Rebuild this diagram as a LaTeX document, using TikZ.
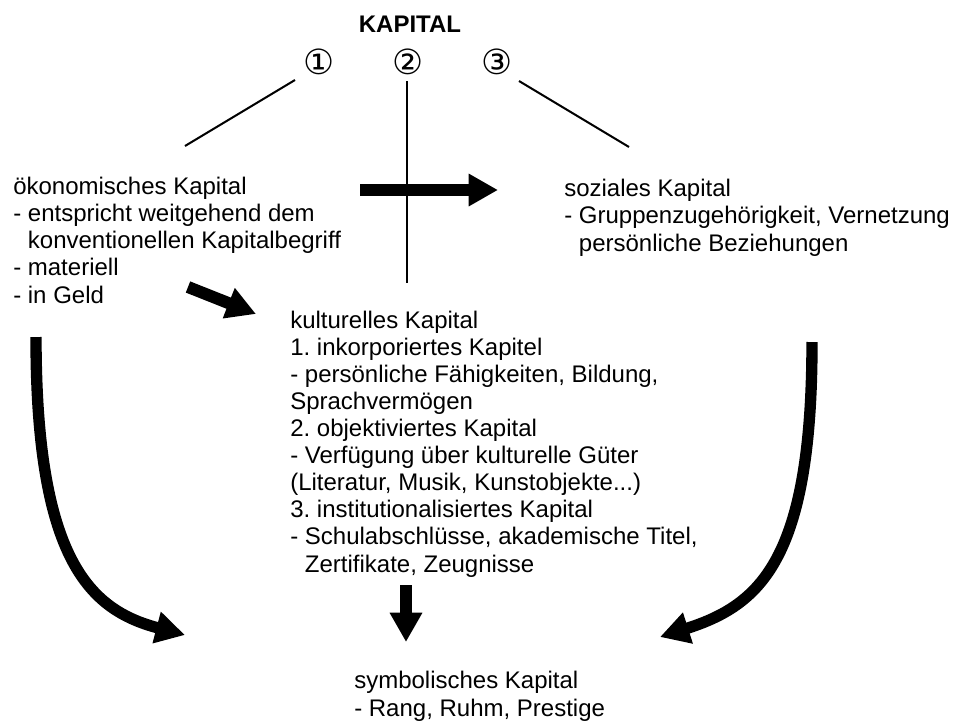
\documentclass[tikz,border=0pt]{standalone}
\usepackage{fontspec}
\setmainfont{Liberation Sans}
\newfontfamily\symfont{DejaVu Sans}
\usetikzlibrary{arrows.meta}
\frenchspacing
\begin{document}
\begin{tikzpicture}[x=0.75pt,y=-0.75pt,
  txt/.style={anchor=base west,align=left,inner sep=0pt,font=\fontsize{18}{20.3}\selectfont\frenchspacing},
  title/.style={anchor=base,inner sep=0pt,font=\fontsize{18}{20}\selectfont\bfseries},
  num/.style={inner sep=0pt,font=\symfont\fontsize{26}{27}\selectfont},
  thinline/.style={line width=1.5pt},
  block/.style={line width=9pt,-{Triangle[width=23pt,length=22pt]}},
  curved/.style={line width=8.5pt,-{Triangle[width=23pt,length=22pt]}}]
\useasboundingbox (0,0) rectangle (957,722);

% title and numbers
\node[title] (kapital) at (410,32) {KAPITAL};
\node[num] (n1) at (319,62) {①};
\node[num] (n2) at (408,62) {②};
\node[num] (n3) at (497,62) {③};

% text blocks (anchor = baseline of the last line)
\node[txt] (oek) at (13,303) {ökonomisches Kapital\\- entspricht weitgehend dem\\\phantom{- }konventionellen Kapitalbegriff\\- materiell\\- in Geld};
\node[txt] (soz) at (564,251) {soziales Kapital\\- Gruppenzugehörigkeit, Vernetzung\\\phantom{- }persönliche Beziehungen};
\node[txt] (kult) at (290,572) {kulturelles Kapital\\1. inkorporiertes Kapitel\\- persönliche Fähigkeiten, Bildung,\\Sprachvermögen\\2. objektiviertes Kapital\\- Verfügung über kulturelle Güter\\(Literatur, Musik, Kunstobjekte...)\\3. institutionalisiertes Kapital\\- Schulabschlüsse, akademische Titel,\\\phantom{- }Zertifikate, Zeugnisse};
\node[txt] (sym) at (354,716) {symbolisches Kapital\\- Rang, Ruhm, Prestige};

% coordinates
\coordinate (l1a) at (295,80);
\coordinate (l1b) at (185,146);
\coordinate (l2a) at (407,81);
\coordinate (l2b) at (407,283);
\coordinate (l3a) at (519,81);
\coordinate (l3b) at (629,147);
\coordinate (ra) at (360,190);
\coordinate (rb) at (498,190);
\coordinate (da) at (188,287);
\coordinate (db) at (256,314);
\coordinate (va) at (406,585);
\coordinate (vb) at (406,642);
\coordinate (ca) at (36,337);
\coordinate (cb) at (185,635);
\coordinate (ea) at (812,342);
\coordinate (eb) at (660,637);

% lines
\draw[thinline] (l1a) -- (l1b);
\draw[thinline] (l2a) -- (l2b);
\draw[thinline] (l3a) -- (l3b);

% arrows
\draw[block] (ra) -- (rb);
\draw[block] (da) -- (db);
\draw[block] (va) -- (vb);
\draw[curved] (ca) .. controls (36,560) and (90,610) .. (cb);
\draw[curved] (ea) .. controls (812,560) and (760,605) .. (eb);
\end{tikzpicture}
\end{document}
